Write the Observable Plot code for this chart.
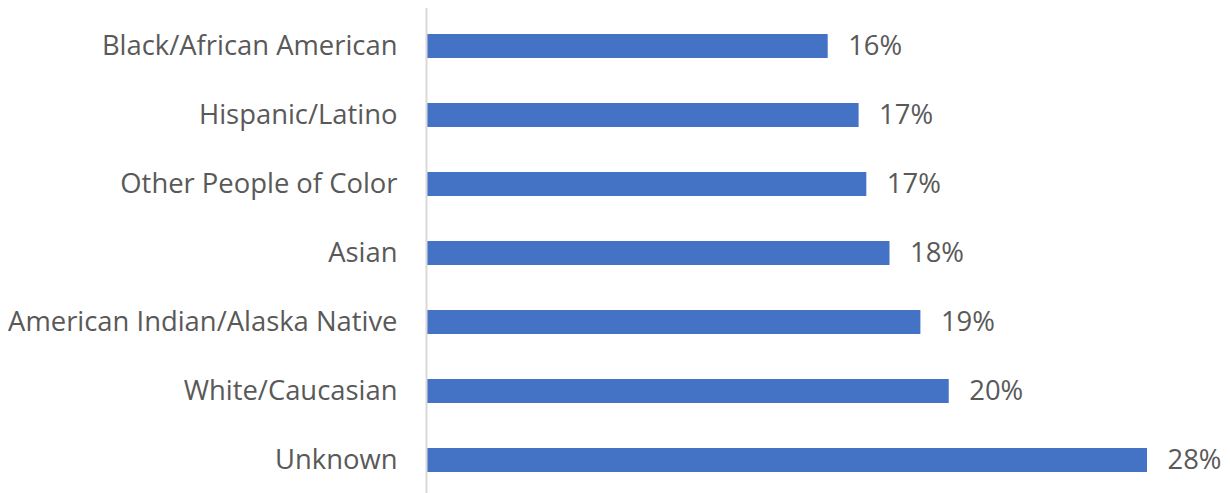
<!DOCTYPE html>
<html><head><meta charset="utf-8">
<script src="https://cdn.jsdelivr.net/npm/d3@7"></script>
<script src="https://cdn.jsdelivr.net/npm/@observablehq/plot@0.6"></script>
<style>body{margin:0;background:#fff;} svg{display:block;}</style>
</head><body><div id="chart"></div>
<script>
const categories = ["Black/African American","Hispanic/Latino","Other People of Color","Asian","American Indian/Alaska Native","White/Caucasian","Unknown"];
const values = [15.6, 16.8, 17.1, 18.0, 19.2, 20.3, 28.0];
const labels = ["16%","17%","17%","18%","19%","20%","28%"];
const data = categories.map((c,i)=>({cat:c, v:values[i], label:labels[i]}));
const font = "'Open Sans', sans-serif";
const chart = Plot.plot({
  width: 1230, height: 493,
  marginLeft: 426, marginRight: 31.5, marginTop: 8, marginBottom: 0,
  style: {fontFamily: font, fontSize: "27.4px", color: "#595959", background: "#fff"},
  x: {domain: [0, 30], axis: null},
  y: {domain: categories, range: [10, 495], paddingInner: 0.655, paddingOuter: 0.31, label: null},
  marks: [
    Plot.barX(data, {x: "v", y: "cat", fill: "#4472c4"}),
    Plot.text(data, {x: "v", y: "cat", text: "label", textAnchor: "start", dx: 20, fill: "#595959", fontSize: 27.4}),
    Plot.ruleX([0], {stroke: "#d9d9d9", strokeWidth: 2}),
    Plot.axisY({tickSize: 0, tickPadding: 29, fontSize: 27.4, fill: "#595959", label: null})
  ]
});
document.getElementById("chart").append(chart);
</script></body></html>
